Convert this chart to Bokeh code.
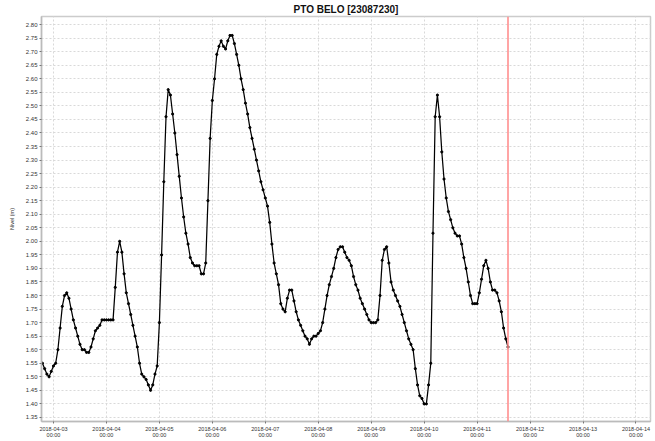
import pandas as pd
from bokeh.plotting import figure
from bokeh.models import (Range1d, FixedTicker, DaysTicker, DatetimeTickFormatter,
                          NumeralTickFormatter, Span, ColumnDataSource)
from bokeh.embed import file_html
from bokeh.resources import INLINE

# ---------------- data ----------------
title = "PTO BELO [23087230]"
y_label = "Nivel (m)"
series_start = "2018-04-02 19:00"   # first hourly reading
now_marker = "2018-04-11 14:00"     # red "now" line
x_start = "2018-04-02 18:34"
x_end = "2018-04-14 06:35"
y_min, y_max = 1.335, 2.83
y_ticks = [1.35, 1.40, 1.45, 1.50, 1.55, 1.60, 1.65, 1.70, 1.75, 1.80,
           1.85, 1.90, 1.95, 2.00, 2.05, 2.10, 2.15, 2.20, 2.25, 2.30,
           2.35, 2.40, 2.45, 2.50, 2.55, 2.60, 2.65, 2.70, 2.75, 2.80]

# hourly water levels (m), grouped per day
day_02 = [1.55, 1.53, 1.51, 1.50, 1.52]
day_03 = [1.54, 1.55, 1.60, 1.68, 1.76, 1.80, 1.81, 1.79, 1.75, 1.71, 1.68, 1.65,
          1.62, 1.60, 1.60, 1.59, 1.59, 1.61, 1.64, 1.67, 1.68, 1.69, 1.71, 1.71]
day_04 = [1.71, 1.71, 1.71, 1.71, 1.83, 1.96, 2.00, 1.96, 1.88, 1.81, 1.77, 1.73,
          1.69, 1.65, 1.61, 1.55, 1.51, 1.50, 1.49, 1.47, 1.45, 1.47, 1.51, 1.54]
day_05 = [1.70, 1.95, 2.22, 2.46, 2.56, 2.54, 2.47, 2.40, 2.32, 2.24, 2.16, 2.09,
          2.03, 1.99, 1.94, 1.92, 1.91, 1.91, 1.91, 1.88, 1.88, 1.92, 2.15, 2.38]
day_06 = [2.52, 2.60, 2.69, 2.72, 2.74, 2.72, 2.71, 2.74, 2.76, 2.76, 2.73, 2.69,
          2.65, 2.60, 2.56, 2.51, 2.47, 2.42, 2.38, 2.34, 2.30, 2.26, 2.22, 2.19]
day_07 = [2.16, 2.13, 2.07, 1.99, 1.92, 1.88, 1.84, 1.77, 1.75, 1.74, 1.79, 1.82,
          1.82, 1.78, 1.74, 1.71, 1.69, 1.67, 1.65, 1.64, 1.62, 1.64, 1.65, 1.65]
day_08 = [1.66, 1.67, 1.70, 1.75, 1.80, 1.84, 1.87, 1.90, 1.94, 1.97, 1.98, 1.98,
          1.96, 1.94, 1.93, 1.91, 1.87, 1.84, 1.82, 1.79, 1.77, 1.75, 1.73, 1.71]
day_09 = [1.70, 1.70, 1.70, 1.71, 1.80, 1.93, 1.97, 1.98, 1.92, 1.85, 1.82, 1.80,
          1.78, 1.76, 1.73, 1.70, 1.67, 1.64, 1.62, 1.60, 1.53, 1.47, 1.43, 1.42]
day_10 = [1.40, 1.40, 1.47, 1.55, 2.03, 2.46, 2.54, 2.46, 2.33, 2.23, 2.16, 2.11,
          2.08, 2.05, 2.03, 2.02, 2.02, 1.99, 1.94, 1.90, 1.85, 1.80, 1.77, 1.77]
day_11 = [1.77, 1.81, 1.86, 1.91, 1.93, 1.90, 1.85, 1.82, 1.82, 1.81, 1.78, 1.74,
          1.68, 1.64, 1.61]

level = day_02 + day_03 + day_04 + day_05 + day_06 + day_07 + day_08 + day_09 + day_10 + day_11
times = pd.date_range(series_start, periods=len(level), freq="h")
src = ColumnDataSource(dict(t=times, v=level))

FONT = "Liberation Sans"

p = figure(width=652, height=440, x_axis_type="datetime",
           output_backend="svg", toolbar_location=None,
           x_range=Range1d(pd.Timestamp(x_start), pd.Timestamp(x_end)),
           y_range=Range1d(y_min, y_max),
           min_border_left=41, min_border_right=2, min_border_top=0, min_border_bottom=0,
           background_fill_color="white", border_fill_color="white")

p.title.text = title
p.title.align = "center"
p.title.text_font = FONT
p.title.text_font_size = "10px"
p.title.text_font_style = "bold"
p.title.text_color = "#111111"
p.title.offset = 0
p.title.standoff = 3

p.outline_line_color = "#cccccc"
p.outline_line_width = 1.5

# axes
for ax in (p.xaxis, p.yaxis):
    ax.axis_line_color = "#bbbbbb"
    ax.axis_line_width = 1.5
    ax.major_tick_line_color = "#777777"
    ax.minor_tick_line_color = None
    ax.major_tick_in = 0
    ax.major_tick_out = 2
    ax.major_label_text_font = FONT
    ax.major_label_text_color = "#333333"

p.yaxis.ticker = FixedTicker(ticks=y_ticks)
p.yaxis.formatter = NumeralTickFormatter(format="0.00")
p.yaxis.major_label_text_font_size = "6px"
p.yaxis.major_label_standoff = 2
p.yaxis.axis_label = y_label
p.yaxis.axis_label_text_font = FONT
p.yaxis.axis_label_text_font_size = "5.5px"
p.yaxis.axis_label_text_font_style = "normal"
p.yaxis.axis_label_text_color = "#333333"
p.yaxis.axis_label_standoff = 8

p.xaxis.ticker = DaysTicker(days=list(range(1, 32)))
p.xaxis.formatter = DatetimeTickFormatter(days="%Y-%m-%d\n%H:%M")
p.xaxis.major_label_text_font_size = "5.5px"
p.xaxis.major_label_text_line_height = 1.0
p.xaxis.major_label_standoff = 2

# grid
p.xgrid.ticker = DaysTicker(days=list(range(1, 32)))
p.ygrid.ticker = FixedTicker(ticks=y_ticks)
for g in (p.xgrid, p.ygrid):
    g.grid_line_color = "#d9d9d9"
    g.grid_line_dash = "2 2"
    g.grid_line_width = 1

# series
p.line("t", "v", source=src, line_color="black", line_width=1.25)
p.scatter("t", "v", source=src, size=2.2, color="black")

# now line
p.add_layout(Span(location=pd.Timestamp(now_marker).value / 1e6, dimension="height",
                  line_color="#ff8f8f", line_width=1.6))

open("out.html", "w").write(file_html(p, INLINE))
